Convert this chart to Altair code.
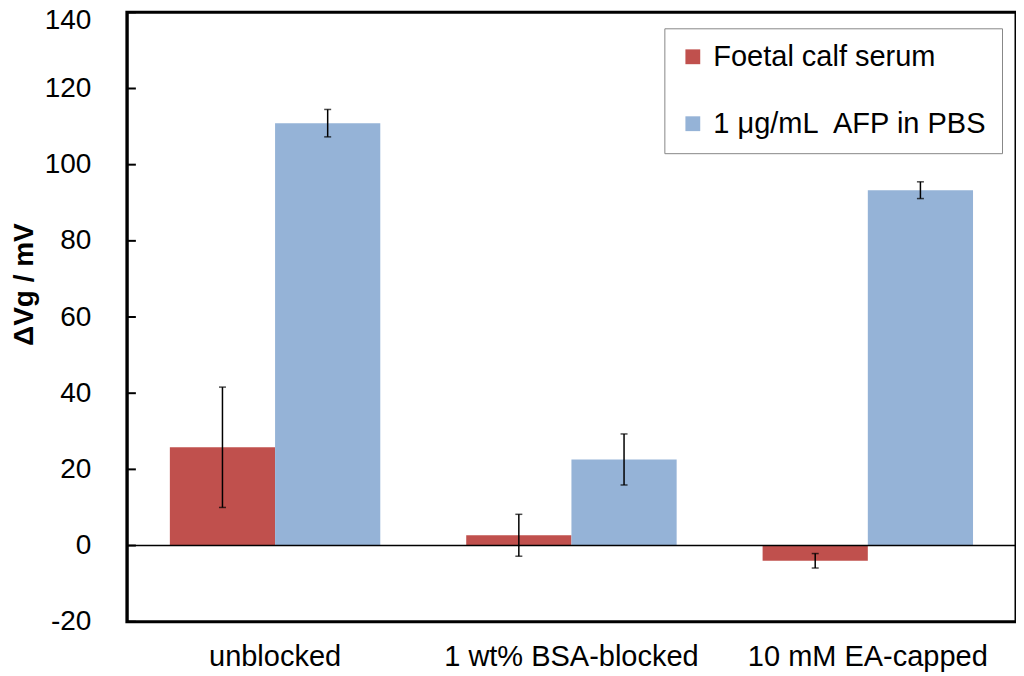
import altair as alt
import pandas as pd

categories = ["unblocked", "1 wt% BSA-blocked", "10 mM EA-capped"]
series = ["Foetal calf serum", "1 μg/mL\u00a0 AFP in PBS"]
fcs_mean = [25.8, 2.7, -4.0]
fcs_err = [15.8, 5.5, 1.9]
afp_mean = [110.9, 22.6, 93.3]
afp_err = [3.6, 6.7, 2.2]
y_ticks = [-20, 0, 20, 40, 60, 80, 100, 120, 140]
colors = ["#C0504D", "#95B3D7"]

rows = []
for i, c in enumerate(categories):
    rows.append(dict(cat=c, series=series[0], v=fcs_mean[i],
                     lo=fcs_mean[i] - fcs_err[i], hi=fcs_mean[i] + fcs_err[i]))
    rows.append(dict(cat=c, series=series[1], v=afp_mean[i],
                     lo=afp_mean[i] - afp_err[i], hi=afp_mean[i] + afp_err[i]))
df = pd.DataFrame(rows)

FONT = "Liberation Sans"
yscale = alt.Scale(domain=[-20, 140], nice=False, zero=False)

base = alt.Chart(df).encode(
    x=alt.X("cat:N", sort=categories,
            scale=alt.Scale(paddingInner=0.29, paddingOuter=0.145),
            axis=alt.Axis(title=None, labelAngle=0, domain=False, ticks=False,
                          labelPadding=21, labelFontSize=29, labelColor="#000",
                          labelFont=FONT, labelLimit=500)),
    xOffset=alt.XOffset("series:N", sort=series,
                        scale=alt.Scale(paddingInner=0, paddingOuter=0)),
)

bars = base.mark_bar().encode(
    y=alt.Y("v:Q", scale=yscale,
            axis=alt.Axis(values=y_ticks, title="ΔVg / mV", grid=False,
                          ticks=False, domainColor="#000", domainWidth=2.5,
                          labelPadding=36, labelFontSize=28, labelColor="#000",
                          labelFont=FONT, titleFont=FONT, titleFontSize=28,
                          titleFontWeight="bold", titleColor="#000",
                          titlePadding=6, titleY=272,
                          labelOffset={"condition": {"test": "datum.value == 140", "value": 8}, "value": 0},
                          labelExpr="replace(datum.label, '\u2212', '-')")),
    y2=alt.datum(0),
    color=alt.Color("series:N", sort=series,
                    scale=alt.Scale(domain=series, range=colors),
                    legend=alt.Legend(title=None, orient="none", legendX=538,
                                      legendY=16, strokeColor="#888888",
                                      fillColor="white", padding=14,
                                      symbolType="square", symbolSize=220,
                                      symbolStrokeWidth=0, labelFontSize=29,
                                      labelFont=FONT, labelColor="#000",
                                      rowPadding=37, labelOffset=6,
                                      labelLimit=400)),
)

err = base.mark_rule(color="black", strokeWidth=1.5).encode(
    y=alt.Y("lo:Q", scale=yscale), y2="hi:Q")
cap_lo = base.mark_tick(color="black", thickness=1.5, size=7,
                        orient="horizontal").encode(y=alt.Y("lo:Q", scale=yscale))
cap_hi = base.mark_tick(color="black", thickness=1.5, size=7,
                        orient="horizontal").encode(y=alt.Y("hi:Q", scale=yscale))

zero = alt.Chart(pd.DataFrame({"z": [0]})).mark_rule(
    color="black", strokeWidth=1.5).encode(y=alt.Y("z:Q", scale=yscale))

ticks = alt.Chart(pd.DataFrame({"t": y_ticks})).mark_rule(
    color="black", strokeWidth=2).encode(
    y=alt.Y("t:Q", scale=yscale), x=alt.value(0), x2=alt.value(9))

frame = alt.Chart(pd.DataFrame({"f": [0]})).mark_rect(
    filled=False, stroke="#000000", strokeWidth=3, strokeOpacity=1).encode(
    y=alt.datum(y_ticks[0], scale=yscale), y2=alt.datum(y_ticks[-1]),
    x=alt.value(0), x2=alt.value(alt.ExprRef(expr="width")))

chart = alt.layer(bars, zero, err, cap_lo, cap_hi, ticks, frame).properties(
    width=890, height=610,
    autosize=alt.AutoSizeParams(type="none"),
    padding={"left": 119, "top": 4, "right": 0, "bottom": 50},
).configure(font=FONT).configure_view(strokeWidth=0)

chart.save("out.html", embed_options={"renderer": "svg", "actions": False})
